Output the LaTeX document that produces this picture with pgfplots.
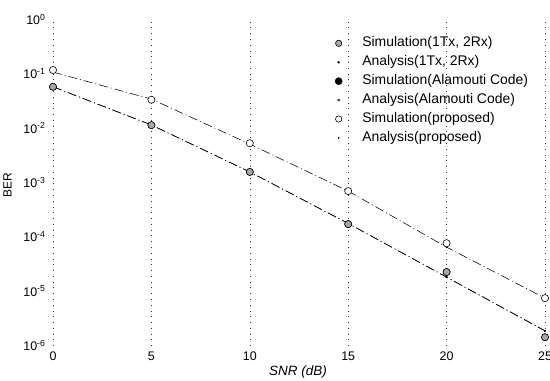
\documentclass[border=0pt]{standalone}
\usepackage{fontspec}
\setmainfont{Liberation Sans}
\usepackage{pgfplots}
\pgfplotsset{compat=1.18}
\begin{document}
\begin{tikzpicture}
\begin{axis}[name=ax, scale only axis, width=492bp, height=326bp,
  ymode=log, xmin=0, xmax=25, ymin=1e-6, ymax=1,
  xtick={0,5,10,15,20,25}, xticklabels={0,5,10,15,20,25},
  ytick={1e-6,1e-5,1e-4,1e-3,1e-2,1e-1,1},
  yticklabels={10\textsuperscript{-6},10\textsuperscript{-5},10\textsuperscript{-4},10\textsuperscript{-3},10\textsuperscript{-2},10\textsuperscript{-1},10\textsuperscript{0}},
  yminorticks=false, xminorticks=false,
  axis line style={draw=none}, major tick length=0pt,
  xmajorgrids, grid style={black!80, dash pattern=on 0.8pt off 5pt, line width=0.5pt},
  ticklabel style={font=\fontsize{12.5}{14}\selectfont},
  xticklabel style={anchor=center, yshift=-10bp},
  yticklabel style={anchor=base east, xshift=-4bp, yshift=-4.5bp},
  xlabel={\textit{SNR (dB)}},
  xlabel style={font=\fontsize{13.5}{15}\selectfont, at={(axis description cs:0.498,0)}, anchor=center, yshift=-26bp},
  ylabel={BER},
  ylabel style={font=\fontsize{12}{14}\selectfont, at={(axis description cs:0,0.494)}, anchor=center, yshift=45.5bp},
  clip=false,
  legend style={draw=none, fill=none, at={(axis description cs:0.573,0.952)}, anchor=north west,
    inner sep=0pt, font=\fontsize{14}{16}\selectfont,
    nodes={inner sep=1pt, text height=10pt, text depth=3pt}, row sep=4pt,
    /tikz/every odd column/.append style={column sep=19bp}},
  legend cell align=left,
]
% Analysis (1Tx, 2Rx)
\addplot[forget plot, black, line width=0.55pt, dash pattern=on 9pt off 3pt on 1pt off 3pt, mark=*, mark size=0.7pt]
  coordinates {(0,0.059) (5,0.0117) (10,1.6e-3) (15,1.8e-4) (20,1.85e-5) (25,1.9e-6)};
% Analysis (Alamouti)
\addplot[forget plot, black, line width=0.55pt, dash pattern=on 9pt off 3pt on 1pt off 3pt, mark=asterisk, mark size=1pt]
  coordinates {(0,0.059) (5,0.0117) (10,1.6e-3) (15,1.8e-4) (20,1.85e-5) (25,1.9e-6)};
% Analysis (proposed)
\addplot[forget plot, black, line width=0.55pt, dash pattern=on 9pt off 3pt on 1pt off 3pt, mark=*, mark size=0.5pt]
  coordinates {(0,0.11) (5,0.035) (10,5.2e-3) (15,7.1e-4) (20,6.6e-5) (25,7.6e-6)};
% Simulation (Alamouti)
\addplot[forget plot, only marks, mark=*, mark size=3.6pt, mark options={fill=black, draw=black}]
  coordinates {(0,0.059) (5,0.0116) (10,1.6e-3) (15,1.75e-4) (20,2.3e-5) (25,1.45e-6)};
% Simulation (1Tx, 2Rx)
\addplot[forget plot, only marks, mark=*, mark size=3.6pt, mark options={fill=gray!70, draw=black, line width=0.6pt}]
  coordinates {(0,0.059) (5,0.0116) (10,1.6e-3) (15,1.75e-4) (20,2.3e-5) (25,1.45e-6)};
% Simulation (proposed)
\addplot[forget plot, only marks, mark=*, mark size=3.6pt, mark options={fill=white, draw=black, line width=0.6pt}]
  coordinates {(0,0.12) (5,0.034) (10,5.4e-3) (15,7.1e-4) (20,7.8e-5) (25,7.6e-6)};

\addlegendimage{only marks, mark=*, mark size=3.2pt, mark options={fill=gray!70, draw=black, line width=0.6pt}}
\addlegendentry{Simulation(1Tx, 2Rx)}
\addlegendimage{only marks, mark=*, mark size=1pt, black}
\addlegendentry{Analysis(1Tx, 2Rx)}
\addlegendimage{only marks, mark=*, mark size=3.6pt, black}
\addlegendentry{Simulation(Alamouti Code)}
\addlegendimage{only marks, mark=asterisk, mark size=1.5pt, black}
\addlegendentry{Analysis(Alamouti Code)}
\addlegendimage{only marks, mark=*, mark size=3.2pt, mark options={fill=white, draw=black, line width=0.6pt}}
\addlegendentry{Simulation(proposed)}
\addlegendimage{only marks, mark=*, mark size=0.6pt, black}
\addlegendentry{Analysis(proposed)}
\end{axis}
\pgfresetboundingbox
\useasboundingbox ([shift={(-53bp,-35bp)}]ax.south west) rectangle ([shift={(5bp,20bp)}]ax.north east);
\end{tikzpicture}
\end{document}
